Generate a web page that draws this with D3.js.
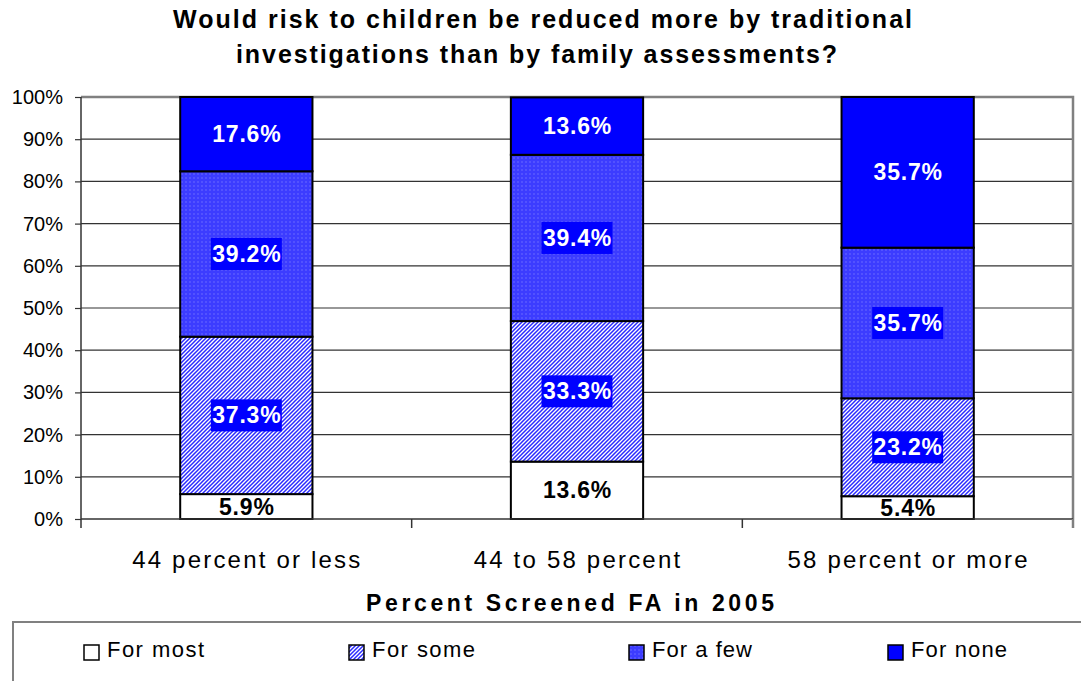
<!DOCTYPE html>
<html><head><meta charset="utf-8">
<script src="https://cdn.jsdelivr.net/npm/d3@7"></script>
<style>body{margin:0;background:#fff}svg{display:block;font-family:"Liberation Sans",Arial,sans-serif}</style>
</head><body><svg id="c" width="1081" height="681"></svg>
<script>
const categories = ["44 percent or less", "44 to 58 percent", "58 percent or more"];
const seriesNames = ["For most", "For some", "For a few", "For none"];
const forMost = [5.9, 13.6, 5.4];
const forSome = [37.3, 33.3, 23.2];
const forFew = [39.2, 39.4, 35.7];
const forNone = [17.6, 13.6, 35.7];
const yTicks = [0, 10, 20, 30, 40, 50, 60, 70, 80, 90, 100];
const titleLines = ["Would risk to children be reduced more by traditional", "investigations than by family assessments?"];
const xTitle = "Percent Screened FA in 2005";

const seriesValues = [forMost, forSome, forFew, forNone];
const FF = '"Liberation Sans",Arial,sans-serif';
const svg = d3.select("#c");
const defs = svg.append("defs");
const ph = defs.append("pattern").attr("id","hatch").attr("patternUnits","userSpaceOnUse").attr("width",4).attr("height",4);
ph.append("rect").attr("width",4).attr("height",4).attr("fill","#fff");
ph.append("path").attr("d","M-1,1 l2,-2 M0,4 l4,-4 M3,5 l2,-2").attr("stroke","#2a2aff").attr("stroke-width",1.5);
const pd = defs.append("pattern").attr("id","dots").attr("patternUnits","userSpaceOnUse").attr("width",4).attr("height",4);
pd.append("rect").attr("width",4).attr("height",4).attr("fill","#3c3cff");
pd.append("rect").attr("x",1).attr("y",1).attr("width",2).attr("height",2).attr("fill","#5252ff");
const fills = ["#ffffff", "url(#hatch)", "url(#dots)", "#0000ff"];

const L = 81, R = 1073, T = 97, B = 519;
const x = d3.scaleBand().domain(categories).range([L, R]).paddingInner(0.6).paddingOuter(0.3);
const xb = d3.scaleBand().domain(categories).range([L, R]);
const y = d3.scaleLinear().domain([0, 100]).range([B, T]);

svg.append("g").selectAll("line").data(yTicks.filter(d => d > 0 && d < 100)).join("line")
  .attr("x1", L).attr("x2", R).attr("y1", d => y(d)).attr("y2", d => y(d))
  .attr("stroke", "#333").attr("stroke-width", 1.2);
svg.append("path").attr("d", `M${L},${y(100)}H${R}V${B}`).attr("fill","none").attr("stroke","#808080").attr("stroke-width",2.5);

const stackData = categories.map((c, i) => {
  let acc = 0;
  return seriesValues.map((s, k) => { const y0 = acc; acc += s[i]; return {c, k, v: s[i], y0, y1: acc}; });
});
const gBars = svg.append("g");
stackData.forEach(col => {
  gBars.selectAll(null).data(col).join("rect")
    .attr("x", d => x(d.c)).attr("width", x.bandwidth())
    .attr("y", d => y(Math.min(d.y1, 100))).attr("height", d => y(d.y0) - y(Math.min(d.y1, 100)))
    .attr("fill", d => fills[d.k]).attr("stroke", "#000").attr("stroke-width", 2);
});

const yAxis = d3.axisLeft(y).tickValues(yTicks).tickFormat(d => d + "%").tickSize(6).tickPadding(12);
const ga = svg.append("g").attr("transform", `translate(${L},0)`).call(yAxis);
ga.select(".domain").remove();
ga.selectAll(".tick line").attr("stroke", "#333").attr("stroke-width", 1.2);
ga.selectAll(".tick text").attr("font-size", 20).attr("fill", "#000").attr("font-family", FF);
svg.append("line").attr("x1", L).attr("x2", L).attr("y1", T).attr("y2", B + 9).attr("stroke", "#333").attr("stroke-width", 1.5);
svg.append("line").attr("x1", L).attr("x2", R).attr("y1", B).attr("y2", B).attr("stroke", "#333").attr("stroke-width", 1.5);
const bounds = categories.map(c => xb(c)).concat([R]);
svg.append("g").selectAll("line").data(bounds.slice(1)).join("line")
  .attr("x1", d => d).attr("x2", d => d).attr("y1", B).attr("y2", B + 9)
  .attr("stroke", d => d === R ? "#808080" : "#333").attr("stroke-width", d => d === R ? 2.5 : 1.5);

svg.append("g").selectAll("text").data(categories).join("text")
  .attr("x", d => xb(d) + xb.bandwidth() / 2 + 1).attr("y", 568)
  .attr("text-anchor", "middle").attr("font-size", 24).attr("letter-spacing", 2.2).attr("fill", "#000").text(d => d);
svg.append("text").attr("x", 366).attr("y", 611)
  .attr("font-size", 23).attr("font-weight", "bold").attr("textLength", 408).attr("lengthAdjust", "spacing").text(xTitle);

stackData.forEach(col => {
  col.forEach(d => {
    const cx = x(d.c) + x.bandwidth() / 2;
    const cy = (y(d.y0) + y(d.y1)) / 2;
    const txt = d.v.toFixed(1) + "%";
    const g = gBars.append("g");
    if (d.k === 1 || d.k === 2) {
      g.append("rect").attr("x", cx - 35.5).attr("y", cy - 16).attr("width", 71).attr("height", 32).attr("fill", "#0000ff");
    }
    g.append("text").attr("x", cx + 0.5).attr("y", cy + 8).attr("text-anchor", "middle")
      .attr("font-size", 23).attr("font-weight", "bold").attr("letter-spacing", 0.8)
      .attr("fill", d.k === 0 ? "#000" : "#fff").text(txt);
  });
});

const titleX = [173, 236], titleW = [739, 601];
svg.append("g").selectAll("text").data(titleLines).join("text")
  .attr("x", (d, i) => titleX[i]).attr("y", (d, i) => 28 + i * 35)
  .attr("font-size", 25).attr("font-weight", "bold")
  .attr("textLength", (d, i) => titleW[i]).attr("lengthAdjust", "spacing").text(d => d);

svg.append("rect").attr("x", 13).attr("y", 622).attr("width", 1080).attr("height", 80)
  .attr("fill", "#fff").attr("stroke", "#808080").attr("stroke-width", 2);
const legX = [84, 349, 629, 888];
const legW = [97, 103, 100, 96];
const lg = svg.append("g").selectAll("g").data(seriesNames).join("g")
  .attr("transform", (d, i) => `translate(${legX[i]},0)`);
lg.append("rect").attr("y", 645).attr("width", 15).attr("height", 15).attr("fill", (d, i) => fills[i]).attr("stroke", "#000").attr("stroke-width", 1.5);
lg.append("text").attr("x", 23).attr("y", 657).attr("font-size", 22)
  .attr("textLength", (d, i) => legW[i]).attr("lengthAdjust", "spacing").text(d => d);
</script></body></html>
